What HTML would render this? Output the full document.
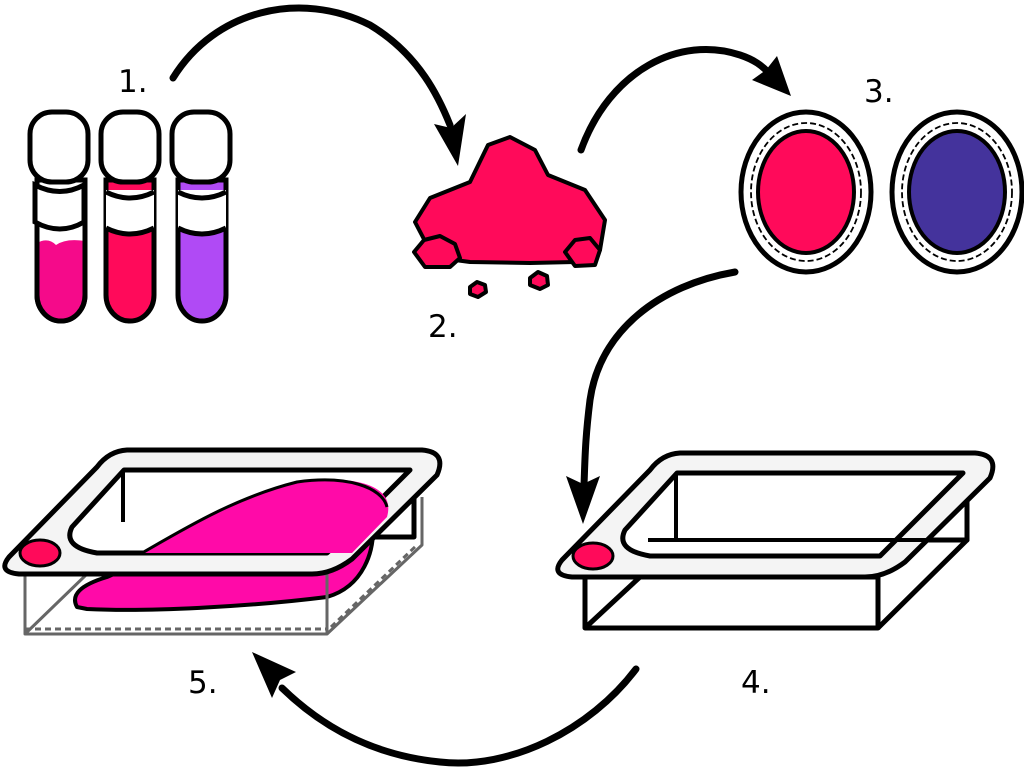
<!DOCTYPE html>
<html><head><meta charset="utf-8"><style>
html,body{margin:0;padding:0;background:#fff;width:1024px;height:768px;overflow:hidden}
svg{display:block}
text{font-family:"DejaVu Sans","Liberation Sans",sans-serif;font-size:31px;fill:#000}
</style></head><body>
<svg width="1024" height="768" viewBox="0 0 1024 768">
<!-- arrows -->
<g fill="none" stroke="#000" stroke-width="7" stroke-linecap="round">
<path d="M173,78 C215,10 300,-10 370,25 C420,55 440,100 450,125"/>
<path d="M581,150 C610,70 680,35 740,55 C755,60 762,66 768,72"/>
<path d="M735,272 C660,285 600,330 590,400 C585,440 585,460 584,485"/>
<path d="M636,669 C590,730 510,770 440,762 C370,755 320,725 282,688"/>
</g>
<g fill="#000">
<polygon points="458,166 434,124 451,128 466,114"/>
<polygon points="791,96 752,80 766,70 777,56"/>
<polygon points="583,524 566,476 583,484 600,476"/>
<polygon points="252,652 296,672 280,680 272,698"/>
</g>
<!-- labels -->
<text x="118" y="92">1.</text>
<text x="428" y="337">2.</text>
<text x="864" y="102">3.</text>
<text x="741" y="693">4.</text>
<text x="188" y="693">5.</text>
<!-- tubes -->
<g stroke="#000" stroke-width="5">
<path d="M37,180 L37,295 A24,26 0 0 0 85,295 L85,180 Z" fill="#fff"/>
<path d="M37,243 Q48,237 56,245 Q66,238 85,241 L85,295 A24,26 0 0 1 37,295 Z" fill="#f50a8a" stroke="none"/>
<path d="M37,225 L37,295 A24,26 0 0 0 85,295 L85,225" fill="none"/>
<path d="M35,185 Q60,198 84,185 L84,222 Q60,236 35,222 Z" fill="#fff"/>
<rect x="30" y="112" width="58" height="70" rx="22" fill="#fff"/>

<path d="M106,180 L106,295 A24,26 0 0 0 154,295 L154,180 Z" fill="#ff0a5a"/>
<path d="M106,190 L106,228 Q130,240 154,228 L154,190 Z" fill="#fff" stroke="none"/>
<path d="M106,192 Q130,204 154,192 M106,228 Q130,240 154,228" fill="none"/>
<rect x="101" y="112" width="58" height="70" rx="22" fill="#fff"/>

<path d="M178,180 L178,295 A24,26 0 0 0 226,295 L226,180 Z" fill="#b04af5"/>
<path d="M178,190 L178,228 Q202,240 226,228 L226,190 Z" fill="#fff" stroke="none"/>
<path d="M178,192 Q202,204 226,192 M178,228 Q202,240 226,228" fill="none"/>
<rect x="172" y="112" width="58" height="70" rx="22" fill="#fff"/>
</g>
<!-- powder -->
<g fill="#ff0a5a" stroke="#000" stroke-width="4" stroke-linejoin="round">
<polygon points="427,245 415,222 430,198 470,182 488,145 510,137 535,150 548,175 585,190 605,220 600,250 575,262 530,263 470,262 440,258"/>
<polygon points="414,252 424,240 440,236 455,244 460,258 450,267 425,267"/>
<polygon points="565,252 575,240 590,238 600,250 595,265 575,266"/>
<polygon points="530,278 538,272 547,276 548,285 540,289 530,285"/>
<polygon points="470,287 477,282 485,285 486,292 478,297 470,294"/>
</g>
<!-- plates -->
<g stroke="#000">
<ellipse cx="806" cy="192" rx="65" ry="80" fill="#fff" stroke-width="5"/>
<ellipse cx="806" cy="192" rx="55" ry="69" fill="none" stroke-width="1.8" stroke-dasharray="6,3"/>
<ellipse cx="806" cy="192" rx="48" ry="61" fill="#ff0a5a" stroke-width="4"/>
<ellipse cx="957" cy="192" rx="65" ry="80" fill="#fff" stroke-width="5"/>
<ellipse cx="957" cy="192" rx="55" ry="69" fill="none" stroke-width="1.8" stroke-dasharray="6,3"/>
<ellipse cx="957" cy="192" rx="48" ry="61" fill="#44339c" stroke-width="4"/>
</g>
<!-- tray 4 -->
<g stroke="#000" stroke-width="5" stroke-linejoin="round">
<polygon points="676,475 967,475 967,540 676,540" fill="#fff"/>
<polyline points="585,628 676,540" fill="none"/>
<polyline points="878,628 967,540 967,500" fill="none"/>
<rect x="585" y="577" width="293" height="51" fill="#fff"/>
<line x1="585" y1="628" x2="640" y2="577"/>
<path d="M680,453 L975,453 Q1000,455 990,478 L905,562 Q885,577 865,577 L572,577 Q550,575 562,560 L650,470 Q662,454 680,453 Z" fill="#f4f4f4"/>
<path d="M677,473 L963,473 L880,556 L650,556 Q615,550 625,530 Z" fill="#fff"/>
<line x1="676" y1="475" x2="676" y2="540" stroke-width="4"/>
<line x1="648" y1="540" x2="930" y2="540" stroke-width="4"/>
<ellipse cx="593" cy="556" rx="20" ry="13" fill="#ff0a5a" stroke-width="3"/>
</g>
<!-- tray 5 -->
<g transform="translate(-553,-3)" stroke-linejoin="round">
<polygon points="676,475 967,475 967,540 676,540" fill="#fff" stroke="#000" stroke-width="5"/>
<path d="M630,610 Q620,592 660,580 C720,555 760,510 810,490 C860,472 920,478 925,520 C930,555 915,590 880,600 C800,610 700,615 640,612 Z" fill="#ff0aa8" stroke="#000" stroke-width="4"/>
<g fill="none" stroke="#666" stroke-width="3">
<rect x="578" y="577" width="302" height="60"/>
<polyline points="880,637 975,548 975,500"/>
<line x1="578" y1="637" x2="640" y2="577"/>
<line x1="578" y1="632" x2="880" y2="632" stroke-dasharray="6,4"/>
<line x1="884" y1="630" x2="970" y2="548" stroke-dasharray="6,4"/>
</g>
<path d="M680,453 L975,453 Q1000,455 990,478 L905,562 Q885,577 865,577 L572,577 Q550,575 562,560 L650,470 Q662,454 680,453 Z" fill="#f4f4f4" stroke="#000" stroke-width="5"/>
<path d="M677,473 L963,473 L880,556 L650,556 Q615,550 625,530 Z" fill="#fff" stroke="#000" stroke-width="5"/>
<path d="M695,556 C740,530 790,500 850,485 C900,478 950,485 940,520 L905,556 Z" fill="#ff0aa8" stroke="none"/>
<path d="M695,556 C740,530 790,500 850,485 C900,478 935,490 940,510" fill="none" stroke="#000" stroke-width="3"/>
<line x1="676" y1="475" x2="676" y2="525" stroke="#000" stroke-width="4"/>
<ellipse cx="593" cy="556" rx="20" ry="13" fill="#ff0a5a" stroke="#000" stroke-width="3"/>
</g>
</svg>
</body></html>
